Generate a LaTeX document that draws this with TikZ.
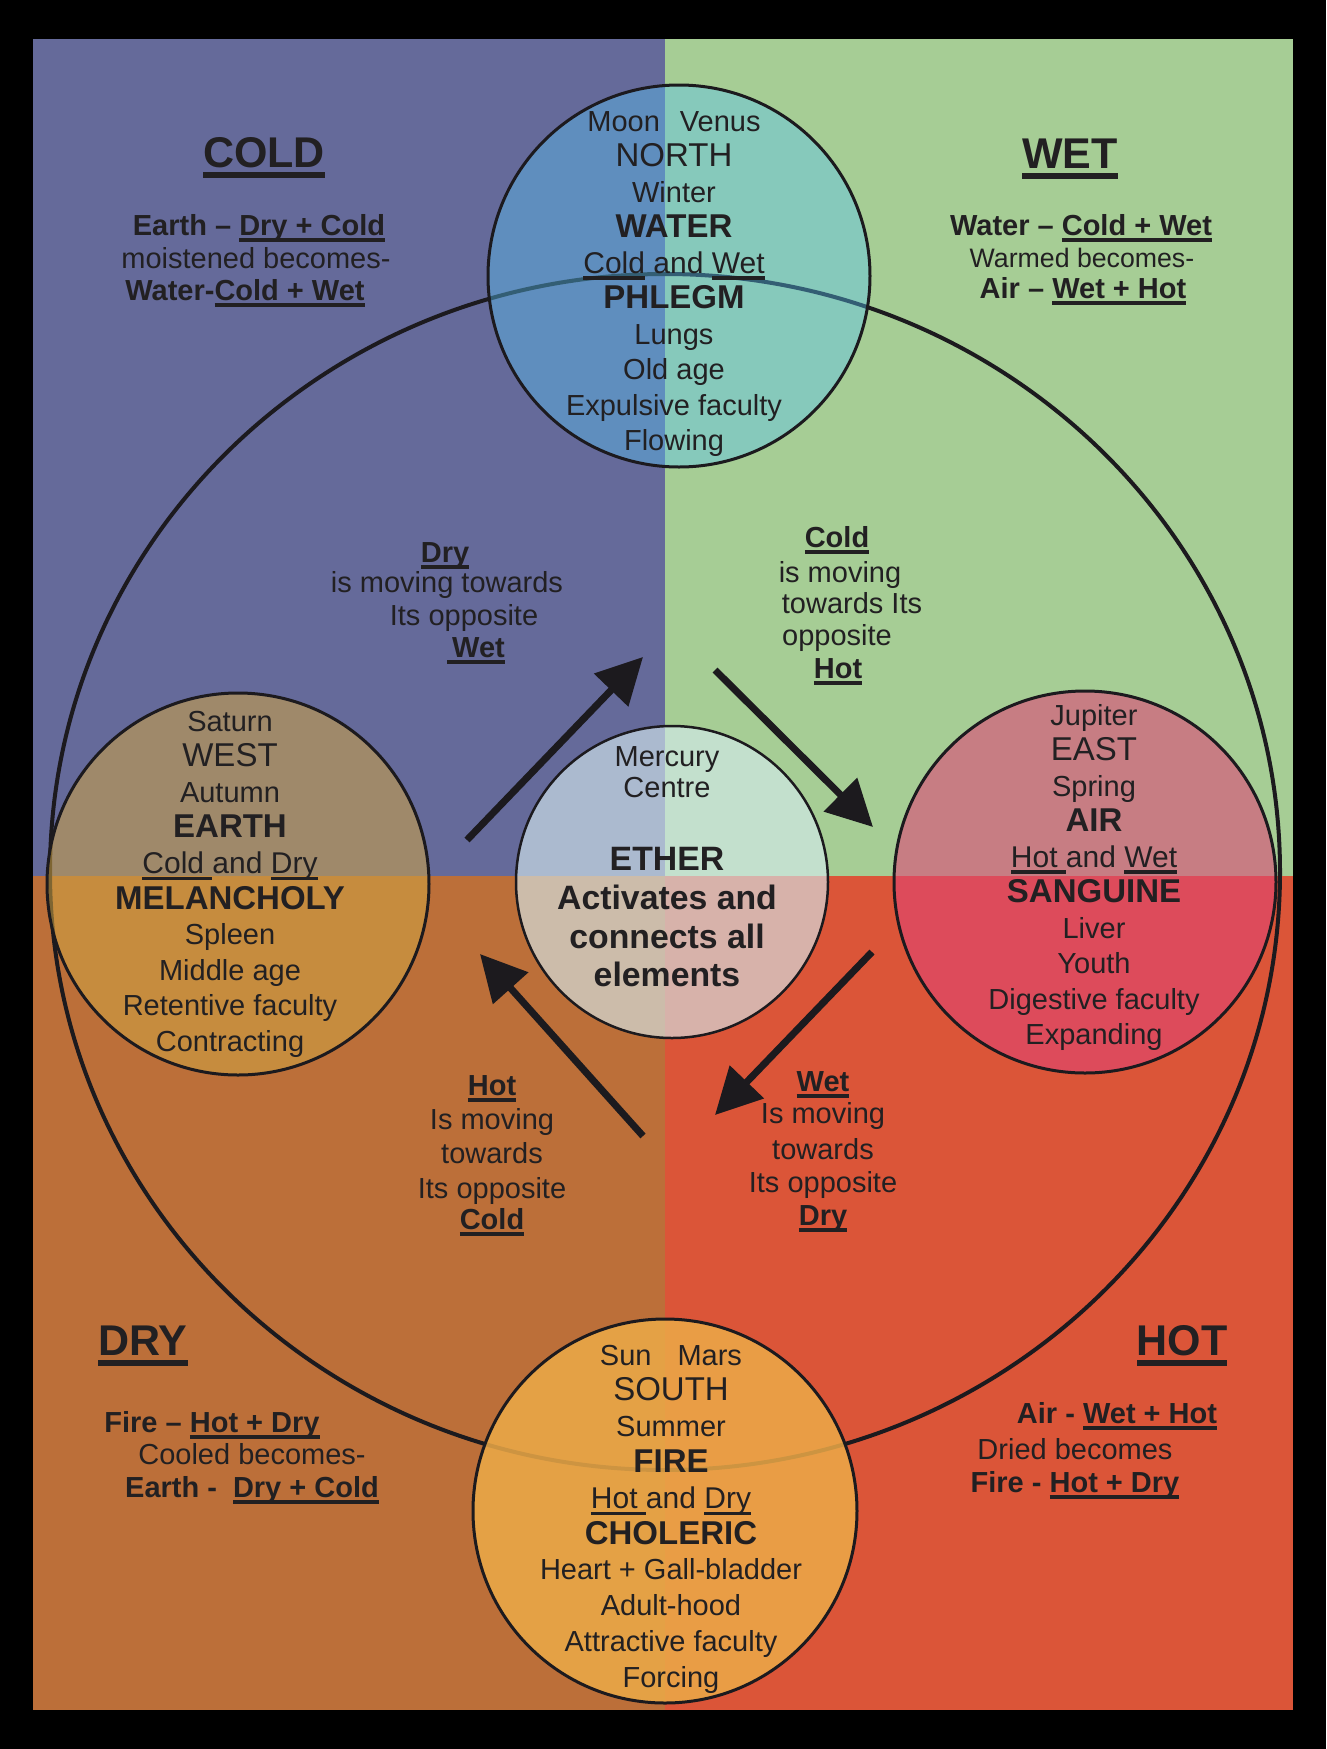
\documentclass[tikz,border=0pt]{standalone}
\usepackage{fontspec}
\setmainfont{Liberation Sans}
\usetikzlibrary{arrows.meta,shapes.geometric}
\definecolor{coldq}{RGB}{101,106,154}
\definecolor{wetq}{RGB}{166,205,149}
\definecolor{dryq}{RGB}{188,111,57}
\definecolor{hotq}{RGB}{219,85,56}
\definecolor{lnc}{RGB}{28,26,30}
\definecolor{txc}{RGB}{34,32,34}
\definecolor{waterc}{RGB}{87,196,245}
\definecolor{earthc}{RGB}{208,164,67}
\definecolor{airc}{RGB}{224,68,118}
\definecolor{firec}{RGB}{236,170,72}
\definecolor{etherc}{RGB}{214,236,240}
\newcommand\myN{\fontsize{29}{35}\selectfont}
\newcommand\myS{\fontsize{26.7}{35}\selectfont}
\newcommand\myD{\fontsize{33}{35}\selectfont}
\newcommand\myB{\fontsize{33}{35}\selectfont\bfseries}
\newcommand\myM{\fontsize{30}{35}\selectfont}
\newcommand\myC{\fontsize{29}{35}\selectfont\bfseries}
\newcommand\myE{\fontsize{33.8}{38}\selectfont\bfseries}
\newcommand\myH{\fontsize{43}{50}\selectfont\bfseries}
\newsavebox\ulbox
\newcommand\uln[1]{\sbox\ulbox{#1}\rlap{\rule[-7pt]{\wd\ulbox}{3.6pt}}\usebox\ulbox}
\newcommand\ulh[1]{\sbox\ulbox{#1}\rlap{\rule[-10.5pt]{\wd\ulbox}{5.2pt}}\usebox\ulbox}
\begin{document}
\begin{tikzpicture}[x=1pt,y=-1pt,
  txt/.style={anchor=base,inner sep=0pt,outer sep=0pt,text=txc,font=\myN},
  elem/.style={circle,draw=lnc,line width=3pt,minimum size=382pt,inner sep=0pt},
  arr/.style={draw=lnc,line width=7pt,-{Triangle[length=46pt,width=46pt]}}]
\useasboundingbox (0,0) rectangle (1326,1749);
\fill[black] (0,0) rectangle (1326,1749);
% quadrants
\fill[coldq] (33,39) rectangle (665,876);
\fill[wetq] (665,39) rectangle (1293,876);
\fill[dryq] (33,876) rectangle (665,1710);
\fill[hotq] (665,876) rectangle (1293,1710);
% big circle
\node[ellipse,draw=lnc,line width=4pt,minimum width=1230pt,minimum height=1196pt,inner sep=0pt] (big) at (665,872) {};
% element circles
\node[elem,fill=waterc,fill opacity=0.4] (water) at (679,276) {};
\node[elem,fill=earthc,fill opacity=0.55] (earth) at (238,884) {};
\node[elem,fill=airc,fill opacity=0.58] (air) at (1085,882) {};
\node[elem,fill=firec,fill opacity=0.85,minimum size=384pt] (fire) at (665,1511) {};
\node[elem,fill=etherc,fill opacity=0.62,minimum size=312pt,line width=2.5pt] (ether) at (672,882) {};
% arrows
\coordinate (a1s) at (467,840); \coordinate (a1e) at (643,657);
\coordinate (a2s) at (715,670); \coordinate (a2e) at (873,827);
\coordinate (a3s) at (872,952); \coordinate (a3e) at (715,1115);
\coordinate (a4s) at (643,1136); \coordinate (a4e) at (480,954);
\draw[arr] (a1s) -- (a1e);
\draw[arr] (a2s) -- (a2e);
\draw[arr] (a3s) -- (a3e);
\draw[arr] (a4s) -- (a4e);
% water text
\foreach \s [count=\i from 0] in {{Moon\hspace{20pt}Venus},{\myD NORTH},{Winter},{\myB WATER},{\myM\uln{Cold} and \uln{Wet}},{\myB PHLEGM},{Lungs},{Old age},{Expulsive faculty},{Flowing}}
  \node[txt] (wt\i) at (674,131+35.5*\i) {\s};
% earth text
\foreach \s [count=\i from 0] in {{Saturn},{\myD WEST},{Autumn},{\myB EARTH},{\myM\uln{Cold }and \uln{Dry}},{\myB MELANCHOLY},{Spleen},{Middle age},{Retentive faculty},{Contracting}}
  \node[txt] (et\i) at (230,731+35.6*\i) {\s};
% air text
\foreach \s [count=\i from 0] in {{Jupiter},{\myD EAST},{Spring},{\myB AIR},{\myM\uln{Hot }and \uln{Wet}},{\myB SANGUINE},{Liver},{Youth},{Digestive faculty},{Expanding}}
  \node[txt] (at\i) at (1094,725+35.5*\i) {\s};
% fire text
\foreach \s [count=\i from 0] in {{Sun\hspace{26pt}Mars},{\myD SOUTH},{Summer},{\myB FIRE},{\myM\uln{Hot }and \uln{Dry}},{\myB CHOLERIC},{Heart + Gall-bladder},{Adult-hood},{Attractive faculty},{Forcing}}
  \node[txt] (ft\i) at (671,1365+35.8*\i) {\s};
% ether text
\node[txt] (ms1) at (667,766) {Mercury};
\node[txt] (ms2) at (667,797) {Centre};
\node[txt,font=\myE] (eh1) at (667,870) {ETHER};
\node[txt,font=\myE] (eh2) at (667,909) {Activates and};
\node[txt,font=\myE] (eh3) at (667,948) {connects all};
\node[txt,font=\myE] (eh4) at (667,986) {elements};
% corner COLD
\node[txt,font=\myH] (coldh) at (264,167) {\ulh{COLD}};
\node[txt,font=\myC] (cold1) at (259,235) {Earth -- \uln{Dry + Cold}};
\node[txt] (cold2) at (256,268) {moistened becomes-};
\node[txt,font=\myC] (cold3) at (245,300) {Water-\uln{Cold + Wet}};
% corner WET
\node[txt,font=\myH] (weth) at (1070,168) {\ulh{WET}};
\node[txt,font=\myC] (wet1) at (1081,235) {Water -- \uln{Cold + Wet}};
\node[txt,font=\myS] (wet2) at (1082,267) {Warmed becomes-};
\node[txt,font=\myC] (wet3) at (1083,298) {Air -- \uln{Wet + Hot}};
% corner DRY
\node[txt,font=\myH] (dryh) at (143,1355) {\ulh{DRY}};
\node[txt,font=\myC] (dry1) at (212,1432) {Fire -- \uln{Hot + Dry}};
\node[txt] (dry2) at (252,1464) {Cooled becomes-};
\node[txt,font=\myC] (dry3) at (252,1497) {Earth -\hspace{16pt}\uln{Dry + Cold}};
% corner HOT
\node[txt,font=\myH] (hoth) at (1182,1355) {\ulh{HOT}};
\node[txt,font=\myC] (hot1) at (1117,1423) {Air - \uln{Wet + Hot}};
\node[txt] (hot2) at (1075,1459) {Dried becomes};
\node[txt,font=\myC] (hot3) at (1075,1492) {Fire - \uln{Hot + Dry}};
% arrow labels
\node[txt,font=\myC] (l1a) at (445,562) {\uln{Dry}};
\node[txt] (l1b) at (447,592) {is moving towards};
\node[txt] (l1c) at (464,625) {Its opposite};
\node[txt,font=\myC] (l1d) at (476,657) {\uln{\hspace{5pt}Wet}};
\node[txt,font=\myC] (l2a) at (837,547) {\uln{Cold}};
\node[txt] (l2b) at (840,582) {is moving};
\node[txt] (l2c) at (852,613) {towards Its};
\node[txt] (l2d) at (837,645) {opposite};
\node[txt,font=\myC] (l2e) at (838,678) {\uln{Hot}};
\node[txt,font=\myC] (l3a) at (492,1095) {\uln{Hot}};
\node[txt] (l3b) at (492,1129) {Is moving};
\node[txt] (l3c) at (492,1163) {towards};
\node[txt] (l3d) at (492,1198) {Its opposite};
\node[txt,font=\myC] (l3e) at (492,1229) {\uln{Cold}};
\node[txt,font=\myC] (l4a) at (823,1091) {\uln{Wet}};
\node[txt] (l4b) at (823,1123) {Is moving};
\node[txt] (l4c) at (823,1159) {towards};
\node[txt] (l4d) at (823,1192) {Its opposite};
\node[txt,font=\myC] (l4e) at (823,1225) {\uln{Dry}};
\end{tikzpicture}
\end{document}
